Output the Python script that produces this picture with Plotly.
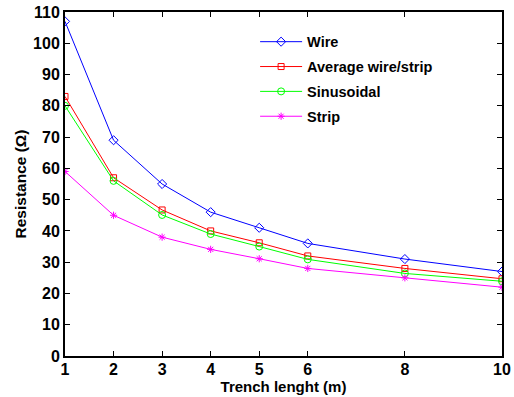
import plotly.graph_objects as go

# Trench length (m) and resistance (Ohm) for each electrode configuration
trench_length = [1, 2, 3, 4, 5, 6, 8, 10]
wire = [107, 69, 55, 46, 41, 36, 31, 27]
average_wire_strip = [83, 57, 46.7, 40, 36.2, 32, 28, 24.7]
sinusoidal = [80, 56, 45.1, 39, 35, 30.9, 26.4, 23.9]
strip = [59, 45, 38, 34.1, 31.1, 28, 25, 22]

x_ticks = [1, 2, 3, 4, 5, 6, 8, 10]
y_ticks = list(range(0, 111, 10))

series = [
    ("Wire", wire, "#0000FF", "diamond-open", 7),
    ("Average wire/strip", average_wire_strip, "#FF0000", "square-open", 6),
    ("Sinusoidal", sinusoidal, "#00FF00", "circle-open", 7),
    ("Strip", strip, "#FF00FF", "asterisk-open", 6),
]

fig = go.Figure()
for i, (name, vals, color, symbol, size) in enumerate(series):
    fig.add_trace(go.Scatter(
        x=trench_length, y=vals, name=name, mode="lines+markers",
        legendgroup=f"g{i}",
        line=dict(color=color, width=1),
        marker=dict(symbol=symbol, size=size, color=color,
                    line=dict(color=color, width=1)),
    ))

font_family = "Liberation Sans, Arial, sans-serif"
axis_common = dict(
    showgrid=False, zeroline=False, automargin=False,
    showline=True, linecolor="black", linewidth=2, mirror="ticks",
    ticks="inside", ticklen=5, tickwidth=1, tickcolor="black",
    tickfont=dict(family=font_family, size=16, color="black", weight="bold"),
)

fig.update_xaxes(
    range=[1, 10], tickvals=x_ticks, ticktext=[str(v) for v in x_ticks],
    ticklabelstandoff=-2,
    title=dict(text="Trench lenght (m)", standoff=0,
               font=dict(family=font_family, size=15, color="black", weight="bold")),
    **axis_common,
)
fig.update_yaxes(
    range=[0, 110], tickvals=y_ticks,
    title=dict(text="Resistance (Ω)", standoff=3,
               font=dict(family=font_family, size=15.5, color="black", weight="bold")),
    **axis_common,
)

fig.update_layout(
    width=514, height=397,
    margin=dict(l=65, r=12, t=12, b=41),
    paper_bgcolor="white", plot_bgcolor="white",
    showlegend=True,
    legend=dict(
        x=0.435, y=0.96, xanchor="left", yanchor="top",
        bgcolor="rgba(0,0,0,0)", borderwidth=0,
        itemwidth=42, tracegroupgap=3,
        font=dict(family=font_family, size=14.5, color="black", weight="bold"),
    ),
)

fig.write_html("out.html")
